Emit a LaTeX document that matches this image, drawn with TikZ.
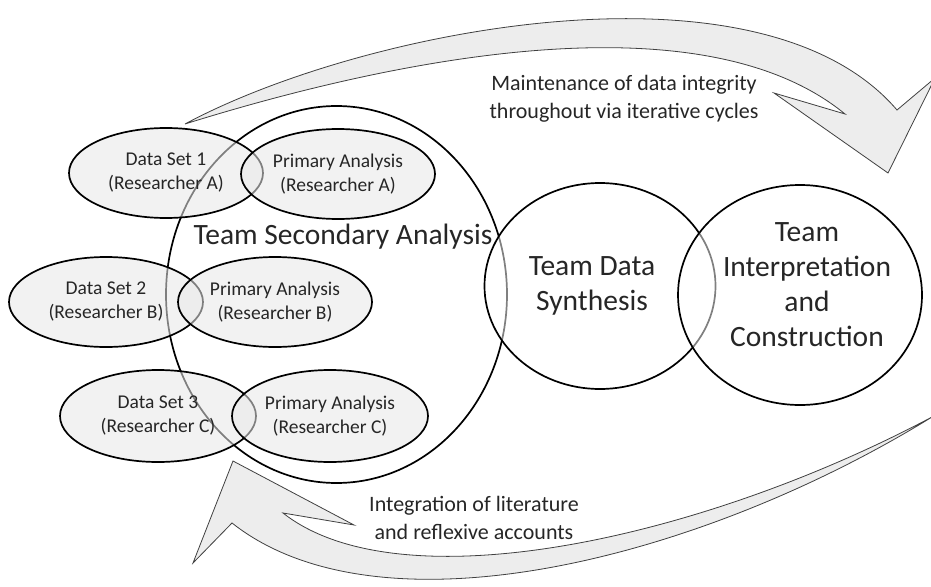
\documentclass[tikz,border=0pt]{standalone}
\usepackage{fontspec}
\setmainfont{Carlito}
\usetikzlibrary{shapes.geometric}

\begin{document}
\begin{tikzpicture}[x=1pt,y=-1pt,
    blob/.style={ellipse,draw=black,line width=1.7pt,inner sep=0pt,
        fill=black!9,fill opacity=0.55,text opacity=1,text=black!85,
        minimum width=194pt,minimum height=90pt,align=center,
        font=\fontsize{19.5}{24}\selectfont},
    ring/.style={ellipse,draw=black,line width=1.7pt,inner sep=0pt,
        fill=white,fill opacity=0.5},
    bigtext/.style={align=center,text=black!85,font=\fontsize{29.5}{35}\selectfont},
    note/.style={align=center,text=black!85,font=\fontsize{22}{28.5}\selectfont},
    swoosh/.style={fill=black!7,draw=black!75,line width=0.8pt,line join=miter}]
\clip (0,0) rectangle (931,586);

% cycle arrows
\draw[swoosh] (185,124) .. controls (360,30) and (760,-50) .. (897,110)
    -- (935,78) -- (888,173) -- (774,93) -- (845,114)
    .. controls (700,-5) and (390,60) .. (185,124) -- cycle;
\draw[swoosh] (932,417) .. controls (700,560) and (380,640) .. (232,523)
    -- (193,563) -- (233,461) -- (354,525) -- (283,513)
    .. controls (400,605) and (700,540) .. (932,417) -- cycle;
\node[note] (maintlbl) at (624,99) {Maintenance of data integrity\\throughout via iterative cycles};
\node[note] (integlbl) at (474,518) {Integration of literature\\and reflexive accounts};

% stages
\node[ring,fill opacity=0,minimum width=341pt,minimum height=377pt] (secondary) at (336.5,294.5) {};
\node[ring,minimum width=231pt,minimum height=206pt] (synth) at (600,286) {};
\node[ring,minimum width=244pt,minimum height=220pt] (interp) at (800,295) {};

% data sets and primary analyses
\node[blob] (ds1) at (166,173) {Data Set 1\\(Researcher A)};
\node[blob] (pa1) at (338,174) {Primary Analysis\\(Researcher A)};
\node[blob] (ds2) at (106,302) {Data Set 2\\(Researcher B)};
\node[blob] (pa2) at (275,302) {Primary Analysis\\(Researcher B)};
\node[blob,minimum width=196pt,minimum height=92pt] (ds3) at (158,416) {Data Set 3\\(Researcher C)};
\node[blob,minimum width=196pt,minimum height=92pt] (pa3) at (330,416) {Primary Analysis\\(Researcher C)};

\node[bigtext] (secondarylbl) at (343,237) {Team Secondary Analysis};
\node[bigtext] (synthlbl) at (592,286) {Team Data\\Synthesis};
\node[bigtext] (interplbl) at (807,285) {Team\\Interpretation\\and\\Construction};
\end{tikzpicture}
\end{document}
